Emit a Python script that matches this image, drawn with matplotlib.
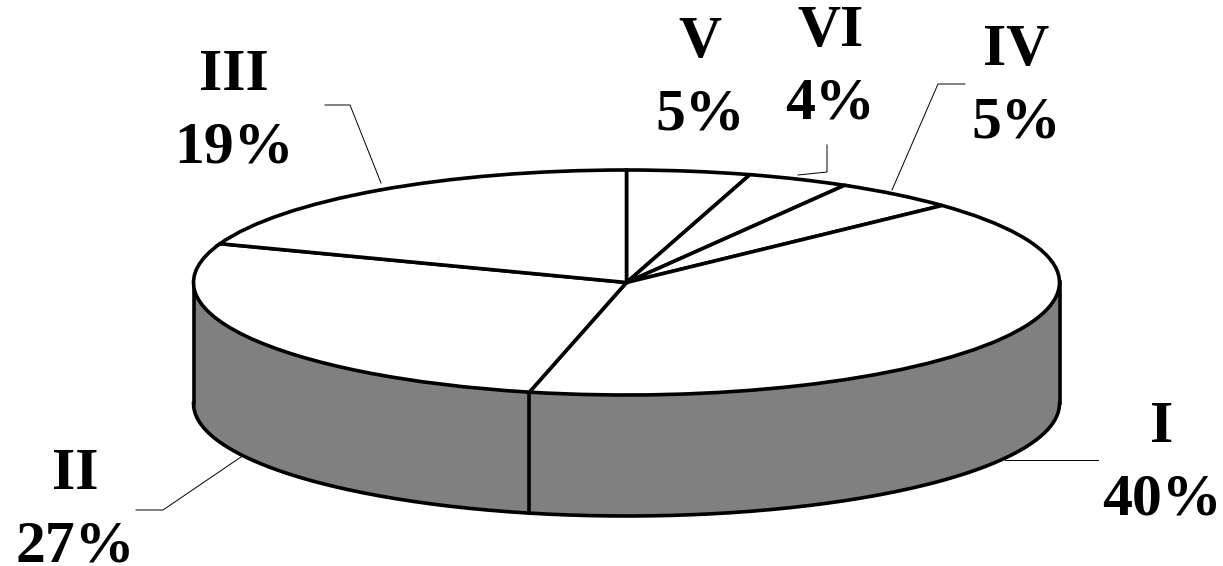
import numpy as np
import matplotlib
matplotlib.use("Agg")
import matplotlib.pyplot as plt

labels = ["V", "VI", "IV", "I", "II", "III"]
# printed percentages, and the slice sizes
percents = [5, 4, 5, 40, 27, 19]
shares = [4.6, 3.8, 4.6, 40.6, 27.0, 19.4]

W, H = 1223, 566
CX, CY = 626.5, 282.5
RX, RY = 433.0, 112.5
DEPTH = 121 / RY
LW = 2.6

plt.rcParams["font.family"] = ["Liberation Serif", "DejaVu Serif"]
fig = plt.figure(figsize=(W / 100, H / 100), dpi=100)
ax = fig.add_axes([0, 0, 1, 1])


# reference pixel -> data coords (unit radius pie, squashed by the axes)
def px(x, y):
    return (x - CX) / RX, (CY - y) / RY


# side wall first, the top goes over it
t = np.radians(np.linspace(180, 360, 200))
ex, ey = np.cos(t), np.sin(t)
ax.fill_between(ex, ey, ey - DEPTH, color="#808080", lw=0, zorder=1)
ax.plot(ex, ey - DEPTH, color="k", lw=LW, zorder=2)
ax.plot([-1, -1], [0, -DEPTH], color="k", lw=LW, zorder=2)
ax.plot([1, 1], [0, -DEPTH], color="k", lw=LW, zorder=2)

# front edge between I and II
split = np.radians(90 - 3.6 * sum(shares[:4]))
ax.plot([np.cos(split)] * 2, [np.sin(split), np.sin(split) - DEPTH], color="k", lw=LW, zorder=2)

wedges, _ = ax.pie(shares, startangle=90, counterclock=False,
                   colors=["white"] * len(shares),
                   wedgeprops={"edgecolor": "k", "linewidth": LW, "zorder": 3})
ax.set_aspect("auto")
ax.set_xlim(px(0, 0)[0], px(W, 0)[0])
ax.set_ylim(px(0, H)[1], px(0, 0)[1])
ax.axis("off")

# leader lines
leaders = [
    [(325, 105), (350, 105), (381, 183)],
    [(798, 175), (827, 172), (827, 145)],
    [(892, 190), (938, 84), (965, 84)],
    [(1005, 460), (1098, 460)],
    [(241, 457), (163, 510), (136, 510)],
]
for pts in leaders:
    xs, ys = zip(*[px(*p) for p in pts])
    ax.plot(xs, ys, color="k", lw=0.7, zorder=4)

label_pos = {"V": (700, 79), "VI": (830, 68), "IV": (1016, 87),
             "I": (1162, 464), "II": (75, 511), "III": (234, 112)}
for name, val in zip(labels, percents):
    x, y = px(*label_pos[name])
    ax.text(x, y, f"{name}\n{val}%", ha="center", va="center",
            fontsize=43, fontweight="bold", linespacing=1.45, zorder=5)

fig.savefig("out.png", dpi=100)
